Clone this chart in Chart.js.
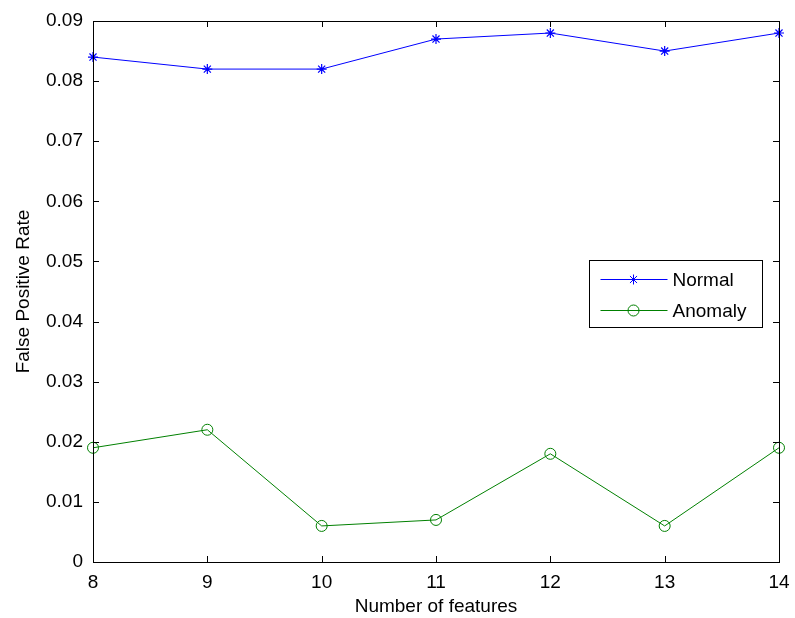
<!DOCTYPE html>
<html>
<head>
<meta charset="utf-8">
<script src="https://cdn.jsdelivr.net/npm/chart.js@4"></script>
<style>
  html, body { margin: 0; padding: 0; background: #fff; }
  #wrap { width: 795px; height: 618px; }
</style>
</head>
<body>
<div id="wrap"><canvas id="chart" width="795" height="618"></canvas></div>
<script>
// Data
const features = ['8', '9', '10', '11', '12', '13', '14'];
const normalFpr = [0.084, 0.082, 0.082, 0.087, 0.088, 0.085, 0.088];
const anomalyFpr = [0.019, 0.022, 0.006, 0.007, 0.018, 0.006, 0.019];
const yTickLabels = ['0', '0.01', '0.02', '0.03', '0.04', '0.05', '0.06', '0.07', '0.08', '0.09'];

const FONT = 'Liberation Sans, Arial, sans-serif';
const FONT_SIZE = 19;

// MATLAB-like box with inward ticks on all four sides
const boxPlugin = {
  id: 'box',
  afterDatasetsDraw(chart) {
    const { ctx, chartArea: a, scales } = chart;
    const len = 6;
    ctx.save();
    ctx.strokeStyle = '#000';
    ctx.lineWidth = 1;
    ctx.beginPath();
    scales.x.ticks.forEach((t, i) => {
      const x = Math.round(scales.x.getPixelForTick(i)) + 0.5;
      ctx.moveTo(x, a.bottom); ctx.lineTo(x, a.bottom - len);
      ctx.moveTo(x, a.top); ctx.lineTo(x, a.top + len);
    });
    scales.y.ticks.forEach((t, i) => {
      const y = Math.round(scales.y.getPixelForTick(i)) + 0.5;
      ctx.moveTo(a.left, y); ctx.lineTo(a.left + len, y);
      ctx.moveTo(a.right, y); ctx.lineTo(a.right - len, y);
    });
    ctx.stroke();
    ctx.strokeRect(Math.round(a.left) + 0.5, Math.round(a.top) + 0.5,
      Math.round(a.right - a.left), Math.round(a.bottom - a.top));
    ctx.restore();
  }
};

// Legend box drawn in MATLAB style (line with marker in the middle)
const legendPlugin = {
  id: 'matlabLegend',
  afterDraw(chart) {
    const { ctx } = chart;
    const bx = 589.5, by = 260.5, bw = 173, bh = 67;
    ctx.save();
    ctx.fillStyle = '#fff';
    ctx.fillRect(bx, by, bw, bh);
    ctx.strokeStyle = '#000';
    ctx.lineWidth = 1;
    ctx.strokeRect(bx, by, bw, bh);
    ctx.font = FONT_SIZE + 'px ' + FONT;
    ctx.textBaseline = 'middle';
    chart.data.datasets.forEach((ds, i) => {
      const y = by + 19 + i * 31;
      ctx.strokeStyle = ds.borderColor;
      ctx.lineWidth = 1;
      ctx.beginPath();
      ctx.moveTo(bx + 11, y); ctx.lineTo(bx + 78, y);
      ctx.stroke();
      ctx.fillStyle = ds.backgroundColor;
      Chart.helpers.drawPoint(ctx, {
        pointStyle: ds.pointStyle, radius: ds.pointRadius, borderWidth: 1
      }, bx + 44, y);
      ctx.fillStyle = '#000';
      ctx.fillText(ds.label, bx + 83, y + 1);
    });
    ctx.restore();
  }
};

new Chart(document.getElementById('chart'), {
  type: 'line',
  data: {
    labels: features,
    datasets: [{
      label: 'Normal',
      data: normalFpr,
      borderColor: '#0000ff',
      backgroundColor: '#0000ff',
      borderWidth: 1,
      pointStyle: 'star',
      pointRadius: 5,
      pointBorderWidth: 1.2,
      tension: 0
    }, {
      label: 'Anomaly',
      data: anomalyFpr,
      borderColor: '#008000',
      backgroundColor: 'rgba(0,0,0,0)',
      borderWidth: 1,
      pointStyle: 'circle',
      pointRadius: 5.5,
      pointBorderWidth: 1,
      tension: 0
    }]
  },
  options: {
    responsive: false,
    animation: false,
    layout: { padding: { top: 21, right: 16, left: 0, bottom: 0 } },
    plugins: {
      legend: { display: false },
      tooltip: { enabled: false }
    },
    scales: {
      x: {
        type: 'category',
        offset: false,
        grid: { display: false, drawTicks: false },
        border: { display: false },
        ticks: { color: '#000', font: { family: FONT, size: FONT_SIZE }, padding: 9, maxRotation: 0 },
        title: { display: true, text: 'Number of features', color: '#000', font: { family: FONT, size: FONT_SIZE }, padding: { top: 0, bottom: 0 } },
        afterFit(scale) {
          scale.height = 56;
          scale.paddingLeft = 0;
          scale.paddingRight = 0;
        }
      },
      y: {
        min: 0,
        max: 0.09,
        grid: { display: false, drawTicks: false },
        border: { display: false },
        ticks: {
          stepSize: 0.01,
          color: '#000',
          font: { family: FONT, size: FONT_SIZE },
          padding: 10,
          callback: (v, i) => yTickLabels[i]
        },
        title: { display: true, text: 'False Positive Rate', color: '#000', font: { family: FONT, size: FONT_SIZE }, padding: { top: 12, bottom: 0 } },
        afterFit(scale) {
          scale.width = 93;
          scale.paddingTop = 0;
          scale.paddingBottom = 0;
        }
      }
    }
  },
  plugins: [boxPlugin, legendPlugin]
});
</script>
</body>
</html>
